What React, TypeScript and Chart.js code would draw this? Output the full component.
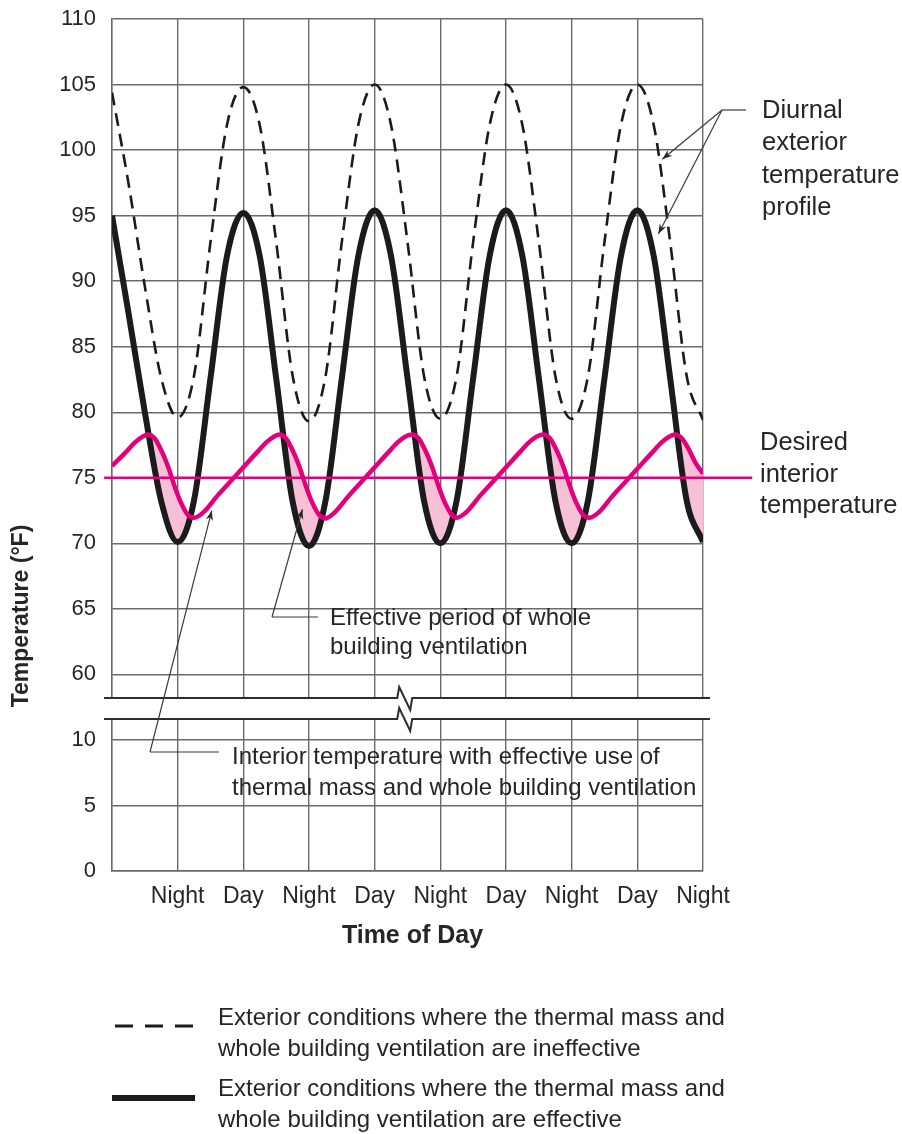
import React, { useEffect, useRef } from 'react';
import { Chart, registerables } from 'chart.js';

Chart.register(...registerables);

// ---------- data ----------
const xTickLabels = ['', 'Night', 'Day', 'Night', 'Day', 'Night', 'Day', 'Night', 'Day', 'Night'];
const upperTickValues = [60, 65, 70, 75, 80, 85, 90, 95, 100, 105, 110];
const lowerTickValues = [0, 5, 10];
const LOWER_OFFSET = 45; // lower (broken) section is drawn shifted by this amount

const exteriorX = [0, 0.25, 0.5, 0.75, 1, 1.25, 1.5, 1.75, 2, 2.25, 2.5, 2.75, 3, 3.25, 3.5, 3.75, 4, 4.25, 4.5, 4.75, 5,
  5.25, 5.5, 5.75, 6, 6.25, 6.5, 6.75, 7, 7.25, 7.5, 7.75, 8, 8.25, 8.5, 8.75, 9];

// solid: exterior conditions where thermal mass & ventilation are effective
const effectiveExterior = [95.0, 87.6, 80.0, 73.2, 70.1, 73.3, 82.6, 91.9, 95.2, 91.9, 82.6, 73.2, 69.8, 73.2, 82.6, 91.9, 95.4,
  91.9, 82.6, 73.3, 70.0, 73.3, 82.6, 91.9, 95.4, 91.9, 82.6, 73.3, 70.0, 73.3, 82.6, 91.9, 95.4, 91.9, 82.6, 73.3, 70.1];

// dashed: exterior conditions where they are ineffective
const ineffectiveExterior = [104.4, 97.5, 89.6, 82.6, 79.6, 82.8, 93.0, 101.9, 104.8, 101.9, 93.0, 82.8, 79.3, 82.7, 93.0, 101.9,
  105.0, 101.9, 93.0, 82.8, 79.5, 82.8, 93.0, 101.9, 105.0, 101.9, 93.0, 82.8, 79.5, 82.8, 93.0, 101.9, 105.0, 101.9, 93.0, 82.8, 79.4];

// magenta: interior temperature
const interiorX = [0, 0.2, 0.35, 0.47, 0.55, 0.65, 0.75, 0.85, 0.95, 1.05, 1.15, 1.25,
  1.4, 1.6, 1.8, 2.0, 2.2, 2.35, 2.47, 2.55, 2.65, 2.75, 2.85, 2.95, 3.05, 3.15, 3.25,
  3.4, 3.6, 3.8, 4.0, 4.2, 4.35, 4.47, 4.57, 4.67, 4.77, 4.87, 4.97, 5.07, 5.17, 5.25,
  5.4, 5.6, 5.8, 6.0, 6.2, 6.35, 6.47, 6.57, 6.67, 6.77, 6.87, 6.97, 7.07, 7.17, 7.27,
  7.42, 7.62, 7.82, 8.02, 8.22, 8.37, 8.49, 8.58, 8.68, 8.78, 8.88, 9.0];
const interiorTemp = [75.9, 76.9, 77.7, 78.15, 78.3, 78.0, 77.1, 75.9, 74.4, 73.1, 72.2, 71.95,
  72.4, 73.6, 74.7, 75.8, 76.9, 77.7, 78.15, 78.3, 78.0, 77.1, 75.9, 74.4, 73.1, 72.2, 71.9,
  72.4, 73.6, 74.7, 75.8, 76.9, 77.7, 78.15, 78.3, 78.0, 77.1, 75.9, 74.4, 73.1, 72.2, 71.95,
  72.4, 73.6, 74.7, 75.8, 76.9, 77.7, 78.15, 78.3, 78.0, 77.1, 75.9, 74.4, 73.1, 72.2, 71.95,
  72.4, 73.6, 74.7, 75.8, 76.9, 77.7, 78.15, 78.3, 78.0, 77.2, 76.2, 75.3];

const desiredTemp = 75;
const desiredSpanX = [-0.12, 9.75];

// ---------- styles ----------
const FONT = '"Liberation Sans", Arial, Helvetica, sans-serif';
const TEXT = '#262626';
const GRID = '#6a6a6a';
const MAGENTA = '#e4007c';
const FILL_PINK = '#f6c0d6';
const BLACK = '#1b1b1b';
const BREAK_HIGH = 58.2;
const BREAK_LOW = 56.6;
const BREAK_X = 4.45;

function drawArrow(ctx: CanvasRenderingContext2D, x0: number, y0: number, x1: number, y1: number) {
  ctx.beginPath();
  ctx.moveTo(x0, y0);
  ctx.lineTo(x1, y1);
  ctx.stroke();
  const a = Math.atan2(y1 - y0, x1 - x0);
  const L = 10, W = 3.6;
  ctx.beginPath();
  ctx.moveTo(x1, y1);
  ctx.lineTo(x1 - L * Math.cos(a) + W * Math.sin(a), y1 - L * Math.sin(a) - W * Math.cos(a));
  ctx.lineTo(x1 - L * 0.7 * Math.cos(a), y1 - L * 0.7 * Math.sin(a));
  ctx.lineTo(x1 - L * Math.cos(a) - W * Math.sin(a), y1 - L * Math.sin(a) + W * Math.cos(a));
  ctx.closePath();
  ctx.fill();
}

function textLines(ctx: CanvasRenderingContext2D, lines: string[], x: number, y0: number, dy: number) {
  lines.forEach((s, i) => ctx.fillText(s, x, y0 + i * dy));
}

const overlayPlugin = {
  id: 'overlay',
  beforeDatasetsDraw(chart: any) {
    const { ctx } = chart;
    const x = chart.scales.x, y = chart.scales.y;
    const yHi = y.getPixelForValue(BREAK_HIGH);
    const yLo = y.getPixelForValue(BREAK_LOW);
    const left = x.left - 8, right = x.right + 7;
    ctx.save();
    ctx.fillStyle = '#ffffff';
    ctx.fillRect(left, yHi, right - left, yLo - yHi);
    ctx.strokeStyle = '#2e2e2e';
    ctx.lineWidth = 2;
    ctx.lineJoin = 'miter';
    const zx = x.getPixelForValue(BREAK_X);
    for (const yy of [yHi, yLo]) {
      ctx.beginPath();
      ctx.moveTo(left, yy);
      ctx.lineTo(zx - 7, yy);
      ctx.lineTo(zx - 5, yy - 11);
      ctx.lineTo(zx + 6, yy + 12);
      ctx.lineTo(zx + 8, yy);
      ctx.lineTo(right, yy);
      ctx.stroke();
    }
    ctx.restore();
  },
  afterDraw(chart: any) {
    const { ctx } = chart;
    const x = chart.scales.x, y = chart.scales.y;
    ctx.save();
    ctx.fillStyle = TEXT;
    // axis titles
    ctx.font = `bold 23px ${FONT}`;
    ctx.textAlign = 'center';
    ctx.textBaseline = 'middle';
    ctx.save();
    ctx.translate(22, 616);
    ctx.rotate(-Math.PI / 2);
    ctx.fillText('Temperature (°F)', 0, 0);
    ctx.restore();
    ctx.font = `bold 25px ${FONT}`;
    ctx.fillText('Time of Day', (x.left + x.right) / 2 + 5, 936);

    // annotation texts
    ctx.textAlign = 'left';
    ctx.textBaseline = 'alphabetic';
    ctx.font = `25.5px ${FONT}`;
    textLines(ctx, ['Diurnal', 'exterior', 'temperature', 'profile'], 762, 118, 32.3);
    textLines(ctx, ['Desired', 'interior', 'temperature'], 760, 450, 31.5);
    ctx.font = `24px ${FONT}`;
    textLines(ctx, ['Effective period of whole', 'building ventilation'], 330, 625, 28.5);
    textLines(ctx, ['Interior temperature with effective use of', 'thermal mass and whole building ventilation'], 232, 764, 31);

    // leader lines / arrows
    ctx.strokeStyle = '#3a3a3a';
    ctx.fillStyle = '#2a2a2a';
    ctx.lineWidth = 1.2;
    // diurnal
    const dj = { x: 722, y: 110 };
    ctx.beginPath(); ctx.moveTo(746, 110); ctx.lineTo(dj.x, dj.y); ctx.stroke();
    drawArrow(ctx, dj.x, dj.y, x.getPixelForValue(8.38), y.getPixelForValue(99.3));
    drawArrow(ctx, dj.x, dj.y, x.getPixelForValue(8.32), y.getPixelForValue(93.6));
    // effective period
    ctx.beginPath(); ctx.moveTo(318, 617); ctx.lineTo(272, 617); ctx.stroke();
    drawArrow(ctx, 272, 617, x.getPixelForValue(2.9), y.getPixelForValue(72.6));
    // interior
    ctx.beginPath(); ctx.moveTo(219, 752); ctx.lineTo(150, 752); ctx.stroke();
    drawArrow(ctx, 150, 752, x.getPixelForValue(1.52), y.getPixelForValue(72.5));

    // legend
    ctx.fillStyle = TEXT;
    ctx.font = `24px ${FONT}`;
    textLines(ctx, ['Exterior conditions where the thermal mass and', 'whole building ventilation are ineffective'], 218, 1025, 30.5);
    textLines(ctx, ['Exterior conditions where the thermal mass and', 'whole building ventilation are effective'], 218, 1096, 30.5);
    ctx.strokeStyle = BLACK;
    ctx.lineWidth = 3.2;
    ctx.setLineDash([18, 12]);
    ctx.beginPath(); ctx.moveTo(115, 1026); ctx.lineTo(195, 1026); ctx.stroke();
    ctx.setLineDash([]);
    ctx.lineWidth = 6;
    ctx.beginPath(); ctx.moveTo(112, 1098); ctx.lineTo(195, 1098); ctx.stroke();
    ctx.restore();
  },
};

export default function App() {
  const ref = useRef<HTMLCanvasElement | null>(null);

  useEffect(() => {
    if (!ref.current) return;
    const toPoints = (xs: number[], ys: number[]) => xs.map((xv, i) => ({ x: xv, y: ys[i] }));
    const tickLabel = (v: number) => {
      const actual = v < BREAK_LOW ? v - LOWER_OFFSET : v;
      return lowerTickValues.includes(actual) || upperTickValues.includes(actual) ? String(actual) : '';
    };
    const chart = new Chart(ref.current, {
      type: 'line',
      data: {
        datasets: [
          {
            label: 'Interior temperature',
            data: toPoints(interiorX, interiorTemp),
            borderColor: MAGENTA,
            borderWidth: 4.5,
            pointRadius: 0,
            cubicInterpolationMode: 'monotone',
            fill: false,
          },
          {
            label: 'Desired interior temperature',
            data: toPoints(desiredSpanX, desiredSpanX.map(() => desiredTemp)),
            borderColor: MAGENTA,
            borderWidth: 2.5,
            pointRadius: 0,
            clip: false,
            fill: false,
          },
          {
            label: 'Effective',
            data: toPoints(exteriorX, effectiveExterior),
            borderColor: BLACK,
            borderWidth: 6,
            pointRadius: 0,
            cubicInterpolationMode: 'monotone',
            borderJoinStyle: 'round',
            fill: { target: 0, above: 'rgba(0,0,0,0)', below: FILL_PINK },
          },
          {
            label: 'Ineffective',
            data: toPoints(exteriorX, ineffectiveExterior),
            borderColor: BLACK,
            borderWidth: 2.6,
            borderDash: [13, 8],
            pointRadius: 0,
            cubicInterpolationMode: 'monotone',
            fill: false,
          },
        ],
      } as any,
      options: {
        responsive: false,
        animation: false,
        devicePixelRatio: 1,
        layout: { padding: { top: 19, right: 199, bottom: 0, left: 0 } },
        plugins: { legend: { display: false }, tooltip: { enabled: false } },
        scales: {
          x: {
            type: 'linear',
            min: 0,
            max: 9,
            afterFit: (s: any) => { s.height = 263; s.paddingLeft = 0; s.paddingRight = 0; },
            afterBuildTicks: (s: any) => { s.ticks = xTickLabels.map((_, i) => ({ value: i })); },
            ticks: {
              callback: (v: any) => xTickLabels[Math.round(Number(v))] ?? '',
              font: { family: FONT, size: 23 },
              color: TEXT,
              padding: 12,
              maxRotation: 0,
              autoSkip: false,
            },
            grid: { color: GRID, lineWidth: 1.4, drawTicks: false },
            border: { display: true, color: GRID, width: 1.4 },
          },
          y: {
            type: 'linear',
            min: LOWER_OFFSET,
            max: 110,
            afterFit: (s: any) => { s.width = 112; s.paddingTop = 0; s.paddingBottom = 0; },
            afterBuildTicks: (s: any) => {
              s.ticks = [...lowerTickValues.map((v) => v + LOWER_OFFSET), ...upperTickValues].map((v) => ({ value: v }));
            },
            ticks: {
              callback: (v: any) => tickLabel(Number(v)),
              font: { family: FONT, size: 22 },
              color: TEXT,
              padding: 16,
              autoSkip: false,
            },
            grid: { color: GRID, lineWidth: 1.4, drawTicks: false },
            border: { display: true, color: GRID, width: 1.4 },
          },
        },
      } as any,
      plugins: [overlayPlugin],
    });
    return () => chart.destroy();
  }, []);

  return (
    <div style={{ position: 'absolute', left: 0, top: 0, width: 902, height: 1134, background: '#fff' }}>
      <canvas ref={ref} width={902} height={1134} style={{ width: 902, height: 1134, display: 'block' }} />
    </div>
  );
}
